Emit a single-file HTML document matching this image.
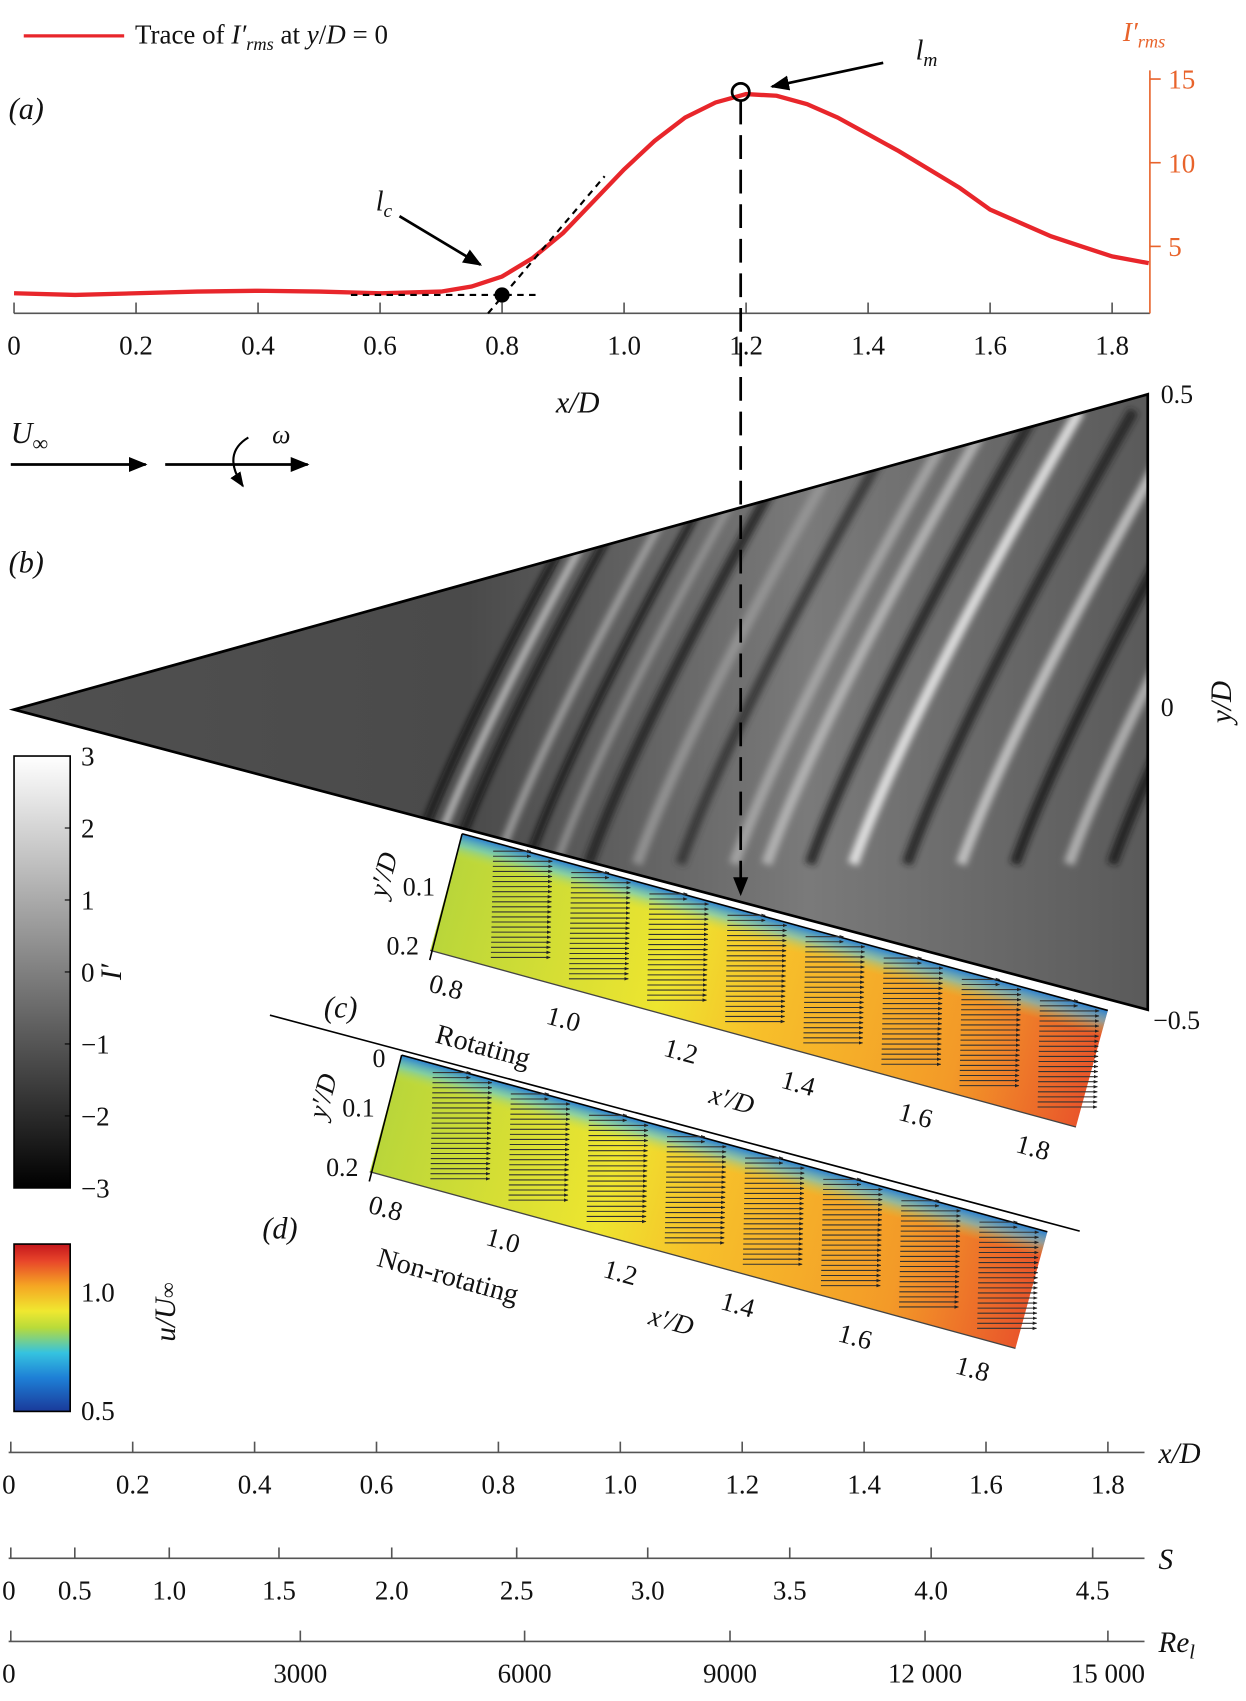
<!DOCTYPE html>
<html><head><meta charset="utf-8"><style>
html,body{margin:0;padding:0;background:#fff}
svg{display:block}
text{font-family:"Liberation Serif",serif;fill:#111}
</style></head><body>
<svg width="1246" height="1701" viewBox="0 0 1154 1575" xmlns="http://www.w3.org/2000/svg">
<defs>
<marker id="ah" viewBox="0 0 10 10" refX="9" refY="5" markerWidth="7" markerHeight="7" orient="auto"><path d="M0,1 L10,5 L0,9 Z" fill="#000"/></marker>
<marker id="sa" viewBox="0 0 10 10" refX="9" refY="5" markerWidth="4" markerHeight="4" orient="auto"><path d="M0,1 L10,5 L0,9 Z" fill="#222"/></marker>
<clipPath id="tri"><polygon points="13,657 1063,365 1063,935"/></clipPath>
<filter id="blur"><feGaussianBlur stdDeviation="3"/></filter>
<linearGradient id="bgTri" x1="0" y1="0" x2="1" y2="0"><stop offset="0" stop-color="#505050"/><stop offset="0.4" stop-color="#4a4a4a"/><stop offset="0.7" stop-color="#7a7a7a"/><stop offset="1" stop-color="#5a5a5a"/></linearGradient>
<linearGradient id="gbar" x1="0" y1="0" x2="0" y2="1"><stop offset="0" stop-color="#fff"/><stop offset="1" stop-color="#000"/></linearGradient>
<linearGradient id="jet" x1="0" y1="1" x2="0" y2="0"><stop offset="0" stop-color="#1a3a9a"/><stop offset="0.2" stop-color="#1e7fd6"/><stop offset="0.35" stop-color="#35c3e0"/><stop offset="0.5" stop-color="#b8db3a"/><stop offset="0.6" stop-color="#f0e830"/><stop offset="0.75" stop-color="#f5a623"/><stop offset="0.9" stop-color="#e8452a"/><stop offset="1" stop-color="#c4161c"/></linearGradient>
<linearGradient id="fieldC" x1="0" y1="0" x2="1" y2="0"><stop offset="0" stop-color="#b9d63a"/><stop offset="0.35" stop-color="#eee52f"/><stop offset="0.5" stop-color="#f7c02a"/><stop offset="0.8" stop-color="#f39a28"/><stop offset="1" stop-color="#e9562a"/></linearGradient>
<linearGradient id="edge" x1="0" y1="0" x2="0" y2="1"><stop offset="0" stop-color="#2a7fd0"/><stop offset="0.1" stop-color="#5cc8e0" stop-opacity="0.6"/><stop offset="0.22" stop-color="#c8e040" stop-opacity="0"/></linearGradient>
</defs>

<line x1="22" y1="33" x2="115" y2="33" stroke="#e8262b" stroke-width="3"/>
<text x="125" y="40" font-size="25">Trace of <tspan font-style="italic">I′</tspan><tspan font-style="italic" font-size="17" dy="6">rms</tspan><tspan dy="-6"> at </tspan><tspan font-style="italic">y</tspan>/<tspan font-style="italic">D</tspan> = 0</text>
<text x="8" y="110" font-size="28" font-style="italic">(a)</text>

<g id="panelA"></g>

<g>
<polygon points="13,657 1063,365 1063,935" fill="url(#bgTri)"/>
<g id="stripes" clip-path="url(#tri)" filter="url(#blur)"></g>
<polygon points="13,657 1063,365 1063,935" fill="none" stroke="#000" stroke-width="2.5"/>
</g>
<text x="1075" y="373" font-size="24">0.5</text>
<text x="1075" y="663" font-size="24">0</text>
<text x="1068" y="953" font-size="24">−0.5</text>
<text transform="translate(1140,650) rotate(-90)" font-size="27" text-anchor="middle" font-style="italic">y/D</text>
<text x="8" y="530" font-size="28" font-style="italic">(b)</text>

<text x="10" y="410" font-size="28" font-style="italic">U<tspan font-size="20" dy="7">∞</tspan></text>
<line x1="10" y1="430" x2="135" y2="430" stroke="#000" stroke-width="2.5" marker-end="url(#ah)"/>
<line x1="153" y1="430" x2="285" y2="430" stroke="#000" stroke-width="2.5" marker-end="url(#ah)"/>
<path d="M230,405 Q205,420 225,450" fill="none" stroke="#000" stroke-width="2" marker-end="url(#ah)"/>
<text x="252" y="410" font-size="24" font-style="italic">ω</text>

<rect x="13" y="700" width="52" height="400" fill="url(#gbar)" stroke="#000" stroke-width="1.5"/>
<g id="gbarTicks"></g>
<text transform="translate(112,900) rotate(-90)" font-size="27" font-style="italic" text-anchor="middle">I′</text>

<rect x="13" y="1152" width="52" height="155" fill="url(#jet)" stroke="#000" stroke-width="1.5"/>
<text x="75" y="1205" font-size="25">1.0</text>
<text x="75" y="1315" font-size="25">0.5</text>
<text transform="translate(162,1215) rotate(-90)" font-size="27" font-style="italic" text-anchor="middle">u/U<tspan font-size="20">∞</tspan></text>

<g id="panelC"></g>
<g id="panelD"></g>
<text x="300" y="942" font-size="28" font-style="italic">(c)</text>
<text x="243" y="1147" font-size="28" font-style="italic">(d)</text>
<line x1="250" y1="940" x2="1000" y2="1140" stroke="#000" stroke-width="1.5"/>

<line x1="686" y1="93" x2="686" y2="828" stroke="#000" stroke-width="2.5" stroke-dasharray="22,10" marker-end="url(#ah)"/>

<g id="bottomAxes"></g>
</svg>
<script>
const ns="http://www.w3.org/2000/svg";
function mk(p,t,a,txt){const e=document.createElementNS(ns,t);for(const k in a)e.setAttribute(k,a[k]);if(txt!==undefined)e.textContent=txt;p.appendChild(e);return e;}
const traceX=[0,0.1,0.2,0.3,0.4,0.5,0.6,0.7,0.75,0.8,0.85,0.9,0.95,1.0,1.05,1.1,1.15,1.2,1.25,1.3,1.35,1.4,1.45,1.5,1.55,1.6,1.65,1.7,1.75,1.8,1.86];
const traceY=[2.2,2.1,2.2,2.3,2.35,2.3,2.2,2.3,2.6,3.2,4.3,5.8,7.7,9.6,11.3,12.7,13.6,14.1,14.0,13.5,12.7,11.7,10.7,9.6,8.5,7.2,6.4,5.6,5.0,4.4,4.0];
const xTicksA=[0,0.2,0.4,0.6,0.8,1.0,1.2,1.4,1.6,1.8];
const xTickLabelsA=["0","0.2","0.4","0.6","0.8","1.0","1.2","1.4","1.6","1.8"];
const yTicksA=[5,10,15];
const ax=v=>13+v*565, ay=v=>228-(v-5)*15.5;
const A=document.getElementById('panelA');
let el=mk(A,'line',{x1:13,y1:290,x2:1065,y2:290,stroke:'#555','stroke-width':1.5});

xTicksA.forEach((v,i)=>{mk(A,'line',{x1:ax(v),y1:290,x2:ax(v),y2:280,stroke:'#555','stroke-width':1.5});
 el=mk(A,'text',{x:ax(v),y:328,'font-size':25,'text-anchor':'middle'},xTickLabelsA[i]);
 });
el=mk(A,'text',{x:535,y:382,'font-size':28,'font-style':'italic','text-anchor':'middle'},'x/D');

el=mk(A,'line',{x1:1065,y1:65,x2:1065,y2:290,stroke:'#e8632b','stroke-width':1.5});

yTicksA.forEach(v=>{mk(A,'line',{x1:1065,y1:ay(v),x2:1075,y2:ay(v),stroke:'#e8632b','stroke-width':1.5});
 el=mk(A,'text',{x:1082,y:ay(v)+9,'font-size':25,style:'fill:#e8632b'},String(v));
 });
el=mk(A,'text',{x:1040,y:38,'font-size':25,'font-style':'italic',style:'fill:#e8632b'});
el.innerHTML='I′<tspan font-size="17" dy="6">rms</tspan>';

el=mk(A,'polyline',{points:traceX.map((x,i)=>ax(x)+','+ay(traceY[i])).join(' '),fill:'none',stroke:'#e8262b','stroke-width':4});

mk(A,'line',{x1:325,y1:273,x2:500,y2:273,stroke:'#000','stroke-width':2,'stroke-dasharray':'6,5'});
mk(A,'line',{x1:452,y1:290,x2:560,y2:163,stroke:'#000','stroke-width':2,'stroke-dasharray':'6,5'});
el=mk(A,'circle',{cx:ax(0.8),cy:273,r:7,fill:'#000'});
el=mk(A,'circle',{cx:686,cy:85,r:8,fill:'none',stroke:'#000','stroke-width':2.5});
mk(A,'line',{x1:370,y1:200,x2:445,y2:245,stroke:'#000','stroke-width':2.5,'marker-end':'url(#ah)'});
mk(A,'line',{x1:818,y1:58,x2:715,y2:80,stroke:'#000','stroke-width':2.5,'marker-end':'url(#ah)'});
el=mk(A,'text',{x:348,y:195,'font-size':26,'font-style':'italic'});el.innerHTML='l<tspan font-size="18" dy="6">c</tspan>';

el=mk(A,'text',{x:848,y:55,'font-size':26,'font-style':'italic'});el.innerHTML='l<tspan font-size="18" dy="6">m</tspan>';

const S=document.getElementById('stripes');
const stripeX=[390,408,428,470,498,525,555,600,640,690,720,760,800,850,900,950,1000,1040];
const stripeShade=['#0a0a0a','#c8c8c8','#0a0a0a','#aaa','#0a0a0a','#999','#222','#999','#333','#aaa','#bbb','#222','#eee','#222','#ccc','#1a1a1a','#bbb','#1a1a1a'];
stripeX.forEach((x,i)=>{mk(S,'path',{d:`M${x-10},800 Q${x+40},660 ${x+200},380`,fill:'none',stroke:stripeShade[i],'stroke-width':i<6?7:10,opacity:0.85});});
const gTicks=[3,2,1,0,-1,-2,-3];
const G=document.getElementById('gbarTicks');
gTicks.forEach(v=>{const y=700+(3-v)*400/6;mk(G,'line',{x1:60,y1:y,x2:65,y2:y,stroke:'#000'});
 el=mk(G,'text',{x:75,y:y+9,'font-size':25},(v<0?'−':'')+Math.abs(v));
 });
function field(id,ox,oy,len,h){
 const g=document.getElementById(id);
 const ang=15.3;
 const R=mk(g,'g',{transform:`translate(${ox},${oy}) rotate(${ang})`});
 mk(R,'rect',{x:0,y:0,width:len,height:h,fill:'url(#fieldC)'});
 mk(R,'rect',{x:0,y:0,width:len,height:h,fill:'url(#edge)'});
 mk(R,'line',{x1:0,y1:0,x2:len,y2:0,stroke:'#000','stroke-width':1.5});
 mk(R,'line',{x1:0,y1:h,x2:len,y2:h,stroke:'#444','stroke-width':1.2});
 const xs=[0.8,1.0,1.2,1.4,1.6,1.8];
 xs.forEach((v,i)=>{const x=(v-0.76)*len/1.1+5;
  el=mk(R,'text',{x:x-20,y:h+37,'font-size':25},v.toFixed(1));
  });
 el=mk(R,'text',{x:len*0.46,y:h+68,'font-size':25,'font-style':'italic'},'x′/D');
 
 for(let k=0;k<8;k++){const bx=30+k*75;
  for(let j=0;j<22;j++){const yy=8+j*(h-12)/22;
   const p=mk(R,'g',{transform:`translate(${bx+yy*0.25},${yy}) rotate(${-ang})`});
   mk(p,'line',{x1:0,y1:0,x2:(j<2?35:55),y2:0,stroke:'#333','stroke-width':1,'marker-end':'url(#sa)'});}}
 mk(g,'line',{x1:ox,y1:oy,x2:ox-30,y2:oy+h+5,stroke:'#000','stroke-width':1.5});
 el=mk(g,'text',{transform:`translate(${ox-65},${oy+40}) rotate(-75)`,'font-size':25,'font-style':'italic','text-anchor':'middle'},'y′/D');
 
 el=mk(g,'text',{x:ox-55,y:oy+57,'font-size':24},'0.1');
 el=mk(g,'text',{x:ox-70,y:oy+112,'font-size':24},'0.2');
}
field('panelC',428,772,620,112);
field('panelD',372,977,620,112);
el=mk(document.getElementById('panelC'),'text',{transform:'translate(402,965) rotate(15.3)','font-size':26},'Rotating');

el=mk(document.getElementById('panelD'),'text',{transform:'translate(348,1172) rotate(15.3)','font-size':26},'Non-rotating');

el=mk(document.getElementById('panelC'),'text',{x:345,y:988,'font-size':24},'0');
const xdVals=[0,0.2,0.4,0.6,0.8,1.0,1.2,1.4,1.6,1.8];
const xdLabels=["0","0.2","0.4","0.6","0.8","1.0","1.2","1.4","1.6","1.8"];
const sXd=[0,0.105,0.26,0.44,0.625,0.83,1.045,1.278,1.51,1.775];
const sLabels=["0","0.5","1.0","1.5","2.0","2.5","3.0","3.5","4.0","4.5"];
const reXd=[0,0.475,0.843,1.18,1.5,1.8];
const reLabels=["0","3000","6000","9000","12 000","15 000"];
const bx=v=>10+v*564.5;
const B=document.getElementById('bottomAxes');
function axis(y,vals,labels,title,name){
 mk(B,'line',{x1:8,y1:y,x2:1060,y2:y,stroke:'#555','stroke-width':1.5});
 vals.forEach((v,i)=>{mk(B,'line',{x1:bx(v),y1:y,x2:bx(v),y2:y-10,stroke:'#555','stroke-width':1.5});
  el=mk(B,'text',{x:i===0?2:bx(v),y:y+38,'font-size':25,'text-anchor':i===0?'start':'middle'},labels[i]);
  });
 el=mk(B,'text',{x:1073,y:y+10,'font-size':27,'font-style':'italic'});el.innerHTML=title;
 
}
axis(1345,xdVals,xdLabels,'x/D','xd');
axis(1443,sXd,sLabels,'S','s');
axis(1520,reXd,reLabels,'Re<tspan font-size="19" dy="6">l</tspan>','re');
</script>
</body></html>
